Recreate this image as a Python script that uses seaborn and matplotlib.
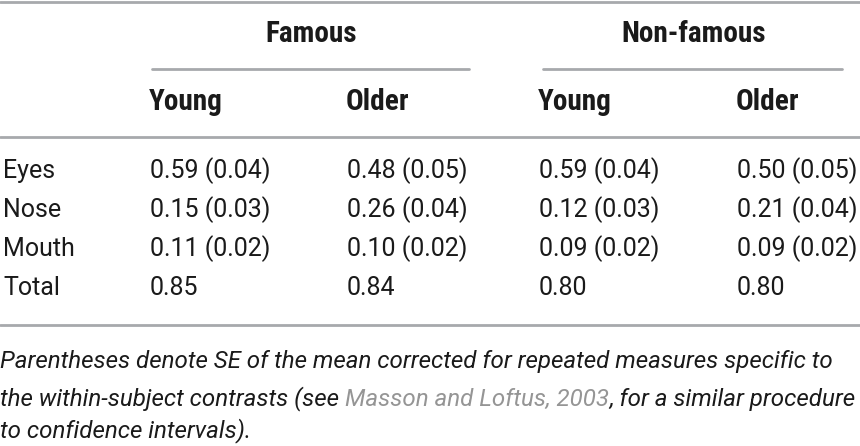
import matplotlib
matplotlib.use("Agg")
import matplotlib.pyplot as plt
import seaborn as sns
from matplotlib import font_manager

sns.set_theme(style="white")

groups = ["Famous", "Non-famous"]
subgroups = ["Young", "Older", "Young", "Older"]
rows = ["Eyes", "Nose", "Mouth", "Total"]
means = [
    [0.59, 0.48, 0.59, 0.50],
    [0.15, 0.26, 0.12, 0.21],
    [0.11, 0.10, 0.09, 0.09],
    [0.85, 0.84, 0.80, 0.80],
]
ses = [
    [0.04, 0.05, 0.04, 0.05],
    [0.03, 0.04, 0.03, 0.04],
    [0.02, 0.02, 0.02, 0.02],
    [None, None, None, None],
]
note_lines = [
    [("Parentheses denote SE of the mean corrected for repeated measures specific to", "#1a1a1a")],
    [("the within-subject contrasts (see ", "#1a1a1a"), ("Masson and Loftus, 2003", "#959595"),
     (", for a similar procedure", "#1a1a1a")],
    [("to confidence intervals).", "#1a1a1a")],
]

fonts = {}
for f in font_manager.fontManager.ttflist:
    fonts.setdefault(f.name, set()).add((f.style, f.weight))

def pick(cands):
    for c in cands:
        if c in fonts:
            return [c, 'DejaVu Sans']
    return ['DejaVu Sans']

body = pick(['Roboto', 'Liberation Sans', 'Arimo'])
head = pick(['Roboto Condensed', 'Archivo Narrow', 'PT Sans Narrow', 'Liberation Sans Narrow',
             'IBM Plex Sans Condensed', 'Open Sans Condensed', 'Barlow Condensed'])
note = body
plt.rcParams['font.family'] = body

W, H = 860, 446
fig = plt.figure(figsize=(W / 100, H / 100), dpi=100)
ax = fig.add_axes([0, 0, 1, 1])
ax.set_xlim(0, W)
ax.set_ylim(H, 0)
ax.axis("off")


def fit(txt, target, base=15, **kw):
    t = ax.text(0, 0, txt, fontsize=base, **kw)
    fig.canvas.draw()
    w = t.get_window_extent().width
    t.remove()
    return base * target / w


ink = "#1a1a1a"
line_col = "#a7a9ac"
col_x = [150, 347, 539, 737]
group_span = [(152, 469), (543, 842)]
y_group, y_group_rule, y_sub = 42, 69, 110
rules = [2, 137, 325]
row_base = [178, 217, 256, 295]
note_base = [368, 405, 437]

dweight = "normal"
hsize = fit(subgroups[0], 74, fontweight="bold", family=head)
dsize = fit("0.59 (0.04)", 121, fontweight=dweight, family=body)
nkw = dict(style="italic", fontweight="normal", family=note)
nsize = min(fit(note_lines[0][0][0], 857, **nkw),
            fit("".join(p[0] for p in note_lines[1]), 858, **nkw))

for y in rules:
    sns.lineplot(x=[0, W], y=[y, y], ax=ax, color=line_col, lw=2)

for g, (a, b) in zip(groups, group_span):
    ax.text((a + b) / 2 + 1, y_group, g, ha="center", va="baseline", fontsize=hsize,
            fontweight="bold", family=head, color=ink)
    sns.lineplot(x=[a, b], y=[y_group_rule, y_group_rule], ax=ax, color=line_col, lw=2)

for s, x in zip(subgroups, col_x):
    ax.text(x - 1, y_sub, s, ha="left", va="baseline", fontsize=hsize, fontweight="bold",
            family=head, color=ink)

for r, y, mrow, srow in zip(rows, row_base, means, ses):
    ax.text(3, y, r, ha="left", va="baseline", fontsize=dsize, fontweight=dweight, color=ink)
    for x, m, s in zip(col_x, mrow, srow):
        txt = f"{m:.2f}" if s is None else f"{m:.2f} ({s:.2f})"
        ax.text(x, y, txt, ha="left", va="baseline", fontsize=dsize, fontweight=dweight,
                color=ink)

for y, parts in zip(note_base, note_lines):
    prev = None
    for txt, c in parts:
        if prev is None:
            prev = ax.text(0, y, txt, ha="left", va="baseline", fontsize=nsize, color=c, **nkw)
        else:
            prev = ax.annotate(txt, xy=(1, 0), xycoords=prev, ha="left", va="bottom",
                               fontsize=nsize, color=c, **nkw)

fig.savefig("out.png", dpi=100)
